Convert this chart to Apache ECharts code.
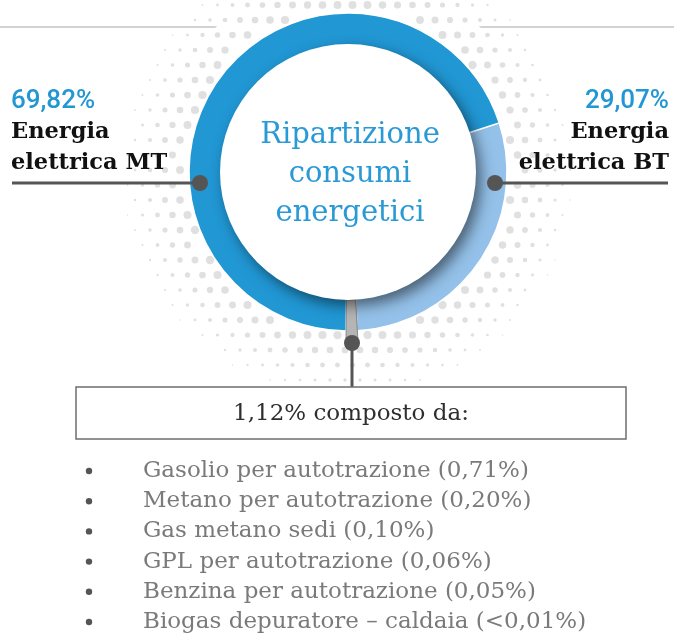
<!DOCTYPE html>
<html>
<head>
<meta charset="utf-8">
<script src="https://cdn.jsdelivr.net/npm/echarts@6/dist/echarts.min.js"></script>
<style>
html,body{margin:0;padding:0;background:#fff;}
#chart{width:674px;height:642px;}
</style>
</head>
<body>
<div id="chart"></div>
<script>
// ---- data ----
const categories = ['Energia elettrica BT', 'Altro', 'Energia elettrica MT'];
const values = [29.07, 1.12, 69.82];
const colors = ['#94c1e9', '#b3b3b3', '#2197d4'];
const centerTitle = ['Ripartizione', 'consumi', 'energetici'];
const subCategories = ['Gasolio per autotrazione', 'Metano per autotrazione', 'Gas metano sedi', 'GPL per autotrazione', 'Benzina per autotrazione', 'Biogas depuratore – caldaia'];
const subValues = ['0,71%', '0,20%', '0,10%', '0,06%', '0,05%', '<0,01%'];

const fmt = v => v.toFixed(2).replace('.', ',') + '%';

const CX = 348, CY = 172, R_IN = 128, R_OUT = 159;
const chart = echarts.init(document.getElementById('chart'));

const g = [];
// background horizontal rule
g.push({type: 'line', z: 0, shape: {x1: 0, y1: 27, x2: 674, y2: 27}, style: {stroke: '#d2d2d2', lineWidth: 2}});
// white halo covering the rule
g.push({type: 'circle', z: 1, shape: {cx: CX, cy: CY, r: 196}, style: {fill: '#fff'}});
// halftone dots (decoration)
for (let row = 0; row * 15 - 40 < 410; row++) {
  const y = row * 15 - 40;
  const off = (row % 2) * 7.5;
  for (let x = off + 120; x < 590; x += 15) {
    const d = Math.hypot(x - CX, y - CY);
    if (d > 163 && d < 225) {
      const r = 0.6 + 3.6 * (1 - (d - 163) / 64);
      g.push({type: 'circle', z: 2, silent: true, shape: {cx: x, cy: y, r: r}, style: {fill: '#e0e0e0'}});
    }
  }
}
// inner white disc with shadow
g.push({type: 'circle', z: 20, shape: {cx: CX, cy: CY, r: R_IN}, style: {fill: '#fff', shadowColor: 'rgba(0,0,0,0.5)', shadowBlur: 14, shadowOffsetX: 5, shadowOffsetY: 6}});
// center title
centerTitle.forEach((t, i) => {
  g.push({type: 'text', z: 30, style: {text: t, x: CX + 2, y: 135 + i * 39, textAlign: 'center', textVerticalAlign: 'middle', align: 'center', verticalAlign: 'middle', font: '29px "DejaVu Serif"', fill: '#2a9ad6'}});
});
// left label (MT)
const mtIdx = 2, btIdx = 0, otIdx = 1;
const lblFont = 'bold 22.5px "DejaVu Serif"';
const pctFont = '500 26px Roboto';
g.push({type: 'text', z: 30, style: {text: fmt(values[mtIdx]), x: 11, y: 101, textAlign: 'left', align: 'left', textVerticalAlign: 'middle', verticalAlign: 'middle', font: pctFont, fill: '#2197d4'}});
g.push({type: 'text', z: 30, style: {text: 'Energia', x: 11, y: 132, textAlign: 'left', align: 'left', textVerticalAlign: 'middle', verticalAlign: 'middle', font: lblFont, fill: '#111'}});
g.push({type: 'text', z: 30, style: {text: 'elettrica MT', x: 11, y: 163, textAlign: 'left', align: 'left', textVerticalAlign: 'middle', verticalAlign: 'middle', font: lblFont, fill: '#111'}});
// right label (BT)
g.push({type: 'text', z: 30, style: {text: fmt(values[btIdx]), x: 669, y: 101, textAlign: 'right', align: 'right', textVerticalAlign: 'middle', verticalAlign: 'middle', font: pctFont, fill: '#2197d4'}});
g.push({type: 'text', z: 30, style: {text: 'Energia', x: 669, y: 132, textAlign: 'right', align: 'right', textVerticalAlign: 'middle', verticalAlign: 'middle', font: lblFont, fill: '#111'}});
g.push({type: 'text', z: 30, style: {text: 'elettrica BT', x: 669, y: 163, textAlign: 'right', align: 'right', textVerticalAlign: 'middle', verticalAlign: 'middle', font: lblFont, fill: '#111'}});
// leader lines
g.push({type: 'line', z: 25, shape: {x1: 12, y1: 183, x2: 200, y2: 183}, style: {stroke: '#555', lineWidth: 3}});
g.push({type: 'circle', z: 26, shape: {cx: 200, cy: 183, r: 8}, style: {fill: '#555'}});
g.push({type: 'line', z: 25, shape: {x1: 495, y1: 183, x2: 668, y2: 183}, style: {stroke: '#555', lineWidth: 3}});
g.push({type: 'circle', z: 26, shape: {cx: 495, cy: 183, r: 8}, style: {fill: '#555'}});
g.push({type: 'line', z: 25, shape: {x1: 352, y1: 343, x2: 352, y2: 387}, style: {stroke: '#555', lineWidth: 3}});
g.push({type: 'circle', z: 26, shape: {cx: 352, cy: 343, r: 8}, style: {fill: '#555'}});
// box
g.push({type: 'rect', z: 25, shape: {x: 76, y: 387, width: 550, height: 52}, style: {fill: '#fff', stroke: '#6e6e6e', lineWidth: 1.5}});
g.push({type: 'text', z: 30, style: {text: fmt(values[otIdx]) + ' composto da:', x: 351, y: 414, textAlign: 'center', align: 'center', textVerticalAlign: 'middle', verticalAlign: 'middle', font: '23px "DejaVu Serif"', fill: '#2e2e2e'}});
// list
subCategories.forEach((c, i) => {
  const y = 471 + i * 30.2;
  g.push({type: 'circle', z: 30, shape: {cx: 89, cy: y, r: 3.2}, style: {fill: '#555'}});
  g.push({type: 'text', z: 30, style: {text: c + ' (' + subValues[i] + ')', x: 143, y: y, textAlign: 'left', align: 'left', textVerticalAlign: 'middle', verticalAlign: 'middle', font: '23px "DejaVu Serif"', fill: '#7a7a7a'}});
});

chart.setOption({
  animation: false,
  graphic: {elements: g},
  series: [
    {
      type: 'pie', z: 5, silent: true,
      center: [CX, CY], radius: [R_IN, 171],
      startAngle: 18, clockwise: true,
      label: {show: false}, labelLine: {show: false},
      data: categories.map((c, i) => ({name: c, value: values[i],
        itemStyle: i === otIdx ? {color: '#b5b5b5', borderColor: '#8a8a8a', borderWidth: 1} : {color: 'rgba(0,0,0,0)'}}))
    },
    {
      type: 'pie', z: 4, silent: true,
      center: [CX, CY], radius: [R_IN - 4, R_OUT],
      startAngle: 18, clockwise: true,
      label: {show: false}, labelLine: {show: false},
      data: categories.map((c, i) => ({name: c, value: values[i],
        itemStyle: {color: colors[i], borderColor: i === otIdx ? '#8a8a8a' : '#fff', borderWidth: i === otIdx ? 1 : 1.5}}))
    }
  ]
});
</script>
</body>
</html>
